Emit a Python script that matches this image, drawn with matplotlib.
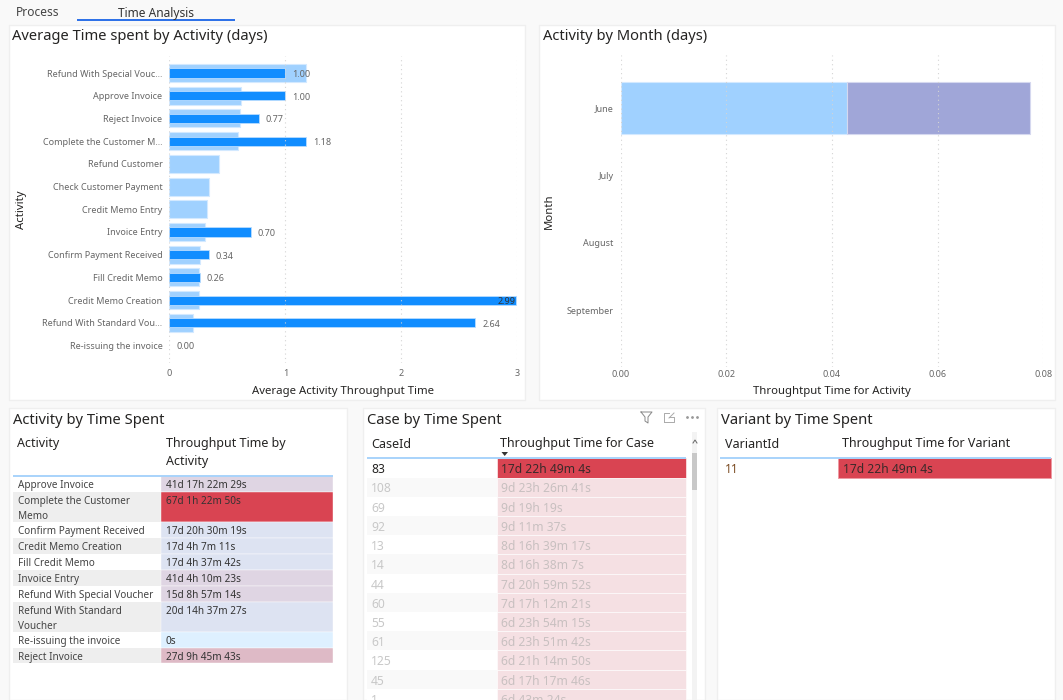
import matplotlib
matplotlib.use("Agg")
import matplotlib.pyplot as plt
from matplotlib.patches import Rectangle, Polygon

plt.rcParams['font.family'] = ['Noto Sans', 'DejaVu Sans']

W, H = 1063, 700

# bar chart data
activities = ["Refund With Special Vouc...", "Approve Invoice", "Reject Invoice",
              "Complete the Customer M...", "Refund Customer", "Check Customer Payment",
              "Credit Memo Entry", "Invoice Entry", "Confirm Payment Received",
              "Fill Credit Memo", "Credit Memo Creation", "Refund With Standard Vou...",
              "Re-issuing the invoice"]
light_vals = [1.18, 0.62, 0.61, 0.595, 0.43, 0.34, 0.325, 0.305, 0.26, 0.255, 0.255, 0.20, 0]
dark_vals = [1.00, 1.00, 0.77, 1.18, None, None, None, 0.70, 0.34, 0.26, 2.99, 2.64, 0.00]

months = ["June", "July", "August", "September"]
month_first = [0.0428, 0, 0, 0]
month_second = [0.0347, 0, 0, 0]

# activity table
act_names = ["Approve Invoice", "Complete the Customer\nMemo", "Confirm Payment Received",
             "Credit Memo Creation", "Fill Credit Memo", "Invoice Entry",
             "Refund With Special Voucher", "Refund With Standard\nVoucher",
             "Re-issuing the invoice", "Reject Invoice"]
act_times = ["41d 17h 22m 29s", "67d 1h 22m 50s", "17d 20h 30m 19s", "17d 4h 7m 11s",
             "17d 4h 37m 42s", "41d 4h 10m 23s", "15d 8h 57m 14s", "20d 14h 37m 27s",
             "0s", "27d 9h 45m 43s"]
act_colors = ["#dfd5e3", "#d94452", "#dde3f2", "#dde3f2", "#dde3f2", "#dfd5e3", "#dfd5e3",
              "#dde3f2", "#def0ff", "#debac6"]
act_heights = [16, 30, 16, 16, 16, 16, 16, 30, 16, 15]

# case table
case_ids = ["83", "108", "69", "92", "13", "14", "44", "60", "55", "61", "125", "45", "1"]
case_times = ["17d 22h 49m 4s", "9d 23h 26m 41s", "9d 19h 19s", "9d 11m 37s", "8d 16h 39m 17s",
              "8d 16h 38m 7s", "7d 20h 59m 52s", "7d 17h 12m 21s", "6d 23h 54m 15s",
              "6d 23h 51m 42s", "6d 21h 14m 50s", "6d 17h 17m 46s", "6d 43m 24s"]

variant_ids = ["11"]
variant_times = ["17d 22h 49m 4s"]

DARK = "#252423"
GREY = "#666666"
BLUE = "#118dff"
LIGHT = "#a0d1ff"
PURPLE = "#a0a6d8"
RED = "#d94452"
FAINT = "#f5e0e3"
TITLE_FS = 10.6
HEAD_FS = 9
CELL_FS = 7.2
CASE_FS = 8.7
TICK_FS = 6.5


def px_axes(fig, left, top, right, bottom):
    return fig.add_axes([left / W, 1 - bottom / H, (right - left) / W, (bottom - top) / H])


def style_chart(ax, xlabel, ylabel, ylabel_x, xlabel_y, xpad):
    for s in ax.spines.values():
        s.set_visible(False)
    ax.set_axisbelow(False)
    ax.grid(axis='x', linestyle=(0, (1, 3)), color='#d4d4d4', linewidth=0.8)
    ax.tick_params(length=0, labelsize=TICK_FS, labelcolor=GREY)
    ax.tick_params(axis='y', pad=5)
    ax.tick_params(axis='x', pad=xpad)
    ax.patch.set_alpha(0)
    ax.set_xlabel(xlabel, fontsize=8.2, color=DARK, va='center')
    ax.set_ylabel(ylabel, fontsize=8.2, color=DARK, va='center')
    ax.xaxis.set_label_coords(0.5, xlabel_y)
    ax.yaxis.set_label_coords(ylabel_x, 0.5)


fig = plt.figure(figsize=(W / 100, H / 100), dpi=100, facecolor='#f9f9f9')
bg = fig.add_axes([0, 0, 1, 1])
bg.set_xlim(0, W)
bg.set_ylim(H, 0)
bg.axis('off')

# panels
panels = [(9, 25, 525, 400), (539, 25, 1055, 400), (9, 408, 347, 700),
          (363, 408, 705, 700), (717, 408, 1055, 700)]
for l, t, r, b in panels:
    bg.add_patch(Rectangle((l, t), r - l, b - t, fc='white', ec='#efefef', lw=1))

# tabs
bg.text(16, 13, "Process", fontsize=8.6, color='#444444', va='center')
bg.text(155.5, 13, "Time Analysis", fontsize=8.6, color='#333333', va='center', ha='center')
bg.plot([77, 235], [19.7, 19.7], color='#2a6fe8', lw=1.4, solid_capstyle='butt')

# titles
bg.text(12, 37, "Average Time spent by Activity (days)", fontsize=TITLE_FS, color=DARK, va='center')
bg.text(543, 37, "Activity by Month (days)", fontsize=TITLE_FS, color=DARK, va='center')
bg.text(13, 421, "Activity by Time Spent", fontsize=TITLE_FS, color=DARK, va='center')
bg.text(367, 421, "Case by Time Spent", fontsize=TITLE_FS, color=DARK, va='center')
bg.text(721, 421, "Variant by Time Spent", fontsize=TITLE_FS, color=DARK, va='center')

# activity bars
ax1 = px_axes(fig, 169.4, 56, 517, 363)
rows = list(range(len(activities)))
ax1.barh(rows, light_vals, height=0.79, color=LIGHT, edgecolor='#d3e9ff',
         linewidth=[0.8 if v > 0 else 0 for v in light_vals])
for i, v in enumerate(dark_vals):
    if v is None:
        continue
    ax1.barh(i, v, height=0.4, color=BLUE, edgecolor='#b8dcff', linewidth=0.6 if v > 0 else 0)
    if v > 2.9:
        ax1.annotate(f"{v:.2f}", (v, i), xytext=(-0.5, -1), textcoords='offset points',
                     ha='right', va='center', fontsize=TICK_FS, color='#333333')
    else:
        ax1.annotate(f"{v:.2f}", (v, i), xytext=(5, -1), textcoords='offset points',
                     ha='left', va='center', fontsize=TICK_FS, color=GREY)
ax1.set_xlim(0, 3)
ax1.set_ylim(12.77, -0.75)
ax1.set_xticks([0, 1, 2, 3])
ax1.set_yticks(rows)
ax1.set_yticklabels(activities)
style_chart(ax1, "Average Activity Throughput Time", "Activity", -0.425, -0.092, 4)

# month bars, the empty months have no bar
ax2 = px_axes(fig, 620.5, 55, 1043.4, 367)
mrows = list(range(len(months)))
ax2.barh(mrows, month_first, height=0.766, color=LIGHT, edgecolor='#d3e9ff',
         linewidth=[0.8 if v > 0 else 0 for v in month_first])
ax2.barh(mrows, month_second, left=month_first, height=0.766, color=PURPLE, edgecolor='#d5d8ef',
         linewidth=[0.8 if v > 0 else 0 for v in month_second])
ax2.set_xlim(0, 0.08)
ax2.set_ylim(3.84, -0.785)
ax2.set_xticks([0, 0.02, 0.04, 0.06, 0.08])
ax2.set_xticklabels(["0.00", "0.02", "0.04", "0.06", "0.08"])
ax2.set_yticks(mrows)
ax2.set_yticklabels(months)
style_chart(ax2, "Throughtput Time for Activity", "Month", -0.169, -0.08, 2)

# activity table
bg.text(17, 444, "Activity", fontsize=HEAD_FS, color=DARK, va='center')
bg.text(166, 444, "Throughput Time by", fontsize=HEAD_FS, color=DARK, va='center')
bg.text(166, 461, "Activity", fontsize=HEAD_FS, color=DARK, va='center')
y = 475.7
for i, name in enumerate(act_names):
    h = act_heights[i]
    bg.add_patch(Rectangle((13, y), 148, h, fc='white' if i % 2 == 0 else '#eeeeee', ec='none'))
    bg.add_patch(Rectangle((161, y), 172, h, fc=act_colors[i], ec='white', lw=0.3))
    for j, part in enumerate(name.split("\n")):
        bg.text(18, y + 10 + j * 15, part, fontsize=CELL_FS, color='#444444', va='center')
    bg.text(166, y + 10, act_times[i], fontsize=CELL_FS, color='#333333', va='center')
    y += h
bg.plot([13, 333], [475.5, 475.5], color='#a8d3fb', lw=1.4, solid_capstyle='butt')

# case table
bg.text(371, 444, "CaseId", fontsize=HEAD_FS, color=DARK, va='center')
bg.text(500, 444, "Throughput Time for Case", fontsize=HEAD_FS, color=DARK, va='center')
bg.add_patch(Polygon([(501.5, 452), (508, 452), (504.7, 456)], fc='#333333', ec='none'))
y = 458.3
row_h = 19.2
for i, cid in enumerate(case_ids):
    bg.add_patch(Rectangle((367, y), 130, row_h, fc='white' if i % 2 == 0 else '#f9f9f9', ec='none'))
    bg.add_patch(Rectangle((497, y), 189, row_h, fc=RED if i == 0 else FAINT, ec='white', lw=0.4))
    bg.text(371, y + 11.5, cid, fontsize=CASE_FS, color=DARK if i == 0 else '#c8c8c8', va='center')
    bg.text(501, y + 11.5, case_times[i], fontsize=CASE_FS, color='#3a2a2a' if i == 0 else '#c8c0c0', va='center')
    y += row_h
bg.plot([367, 686], [457.8, 457.8], color='#a8d3fb', lw=1.4, solid_capstyle='butt')

# scrollbar
bg.add_patch(Rectangle((691.7, 431.7), 5.5, 268.3, fc='#f3f3f3', ec='none'))
bg.add_patch(Rectangle((691.7, 453), 5.5, 37, fc='#c8c8c8', ec='none'))
bg.plot([693, 695, 697], [443, 440, 443], color='#666666', lw=0.7)

# header icons
bg.plot([641, 652, 648, 648, 645, 645, 641], [412, 412, 417, 423, 421, 417, 412], color='#888888', lw=0.7)
bg.plot([664, 664, 669], [422, 413, 413], color='#aaaaaa', lw=0.7)
bg.plot([664, 674, 674, 669], [422, 422, 417, 417], color='#aaaaaa', lw=0.7)
bg.plot([669, 674], [418, 413], color='#aaaaaa', lw=0.7)
bg.plot([686.5, 691.5, 696.5], [416.5, 416.5, 416.5], ls='none', marker='o', ms=1.0, color='#999999')

# variant table
bg.text(725, 444, "VariantId", fontsize=HEAD_FS, color=DARK, va='center')
bg.text(842, 444, "Throughput Time for Variant", fontsize=HEAD_FS, color=DARK, va='center')
y = 458.3
for vid, vt in zip(variant_ids, variant_times):
    bg.add_patch(Rectangle((838, y), 212.7, row_h, fc=RED, ec='#ee9aa3', lw=0.7))
    bg.text(725, y + 11.5, vid, fontsize=CASE_FS, color='#7a4a20', va='center')
    bg.text(843, y + 11.5, vt, fontsize=CASE_FS, color='#3a2a2a', va='center')
bg.plot([720, 1050.7], [457.8, 457.8], color='#a8d3fb', lw=1.4, solid_capstyle='butt')

fig.savefig("out.png", dpi=100)
